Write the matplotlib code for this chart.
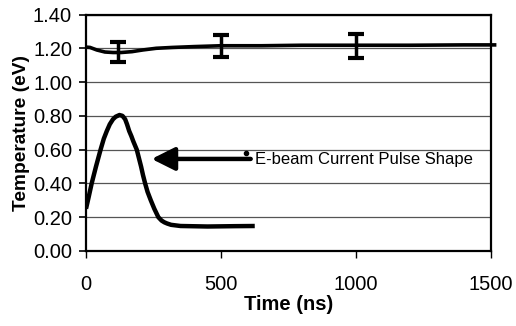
import matplotlib
matplotlib.use("Agg")
import matplotlib.pyplot as plt
import numpy as np

# Data
temp_t = [0, 15, 40, 70, 100, 130, 170, 210, 260, 320, 400, 500, 650, 800, 1000, 1200, 1400, 1520]
temp_v = [1.207, 1.205, 1.19, 1.178, 1.175, 1.175, 1.18, 1.19, 1.20, 1.205, 1.21, 1.215, 1.215, 1.218, 1.218, 1.218, 1.22, 1.22]

err_t = [120, 500, 1000]
err_v = [1.18, 1.215, 1.213]
err_e = [0.06, 0.065, 0.07]

pulse_t = [0, 10, 21, 37, 54, 66, 77, 88, 100, 110, 124, 135, 145, 152, 160, 168, 175, 188,
           196, 204, 211, 219, 228, 240, 253, 268, 280, 290, 300, 315, 350, 450, 550, 625]
pulse_v = [0.25, 0.32, 0.40, 0.50, 0.60, 0.665, 0.71, 0.75, 0.78, 0.795, 0.805, 0.80, 0.78, 0.75, 0.71, 0.68, 0.65, 0.60,
           0.55, 0.50, 0.45, 0.40, 0.35, 0.30, 0.25, 0.20, 0.18, 0.17, 0.163, 0.155, 0.148, 0.145, 0.147, 0.148]

x_ticks = [0, 500, 1000, 1500]
y_ticks = [0.0, 0.2, 0.4, 0.6, 0.8, 1.0, 1.2, 1.4]
annot_text = "E-beam Current Pulse Shape"

plt.rcParams['font.family'] = ['Liberation Sans', 'DejaVu Sans']

fig = plt.figure(figsize=(5.16, 3.26), dpi=100)
ax = fig.add_axes([86/516, 1-251/326, (491-86)/516, (251-14.5)/326])

ax.set_xlim(0, 1500)
ax.set_ylim(0, 1.4)
ax.set_yticks(y_ticks)
ax.set_yticklabels([f"{v:.2f}" for v in y_ticks])
ax.set_xticks(x_ticks)
ax.set_xticklabels([str(v) for v in x_ticks])
ax.yaxis.grid(True, color='#555555', linewidth=0.9)
ax.set_axisbelow(True)

for s in ax.spines.values():
    s.set_linewidth(1.6)
    s.set_color('black')

ax.tick_params(axis='y', direction='out', length=5, width=1.2, labelsize=14.5, pad=5)
ax.tick_params(axis='x', direction='out', length=5, width=1.0, labelsize=14.5, pad=12)

ax.plot(temp_t, temp_v, color='black', linewidth=2.6, clip_on=False,
        solid_capstyle='butt', solid_joinstyle='round')
ax.errorbar(err_t, err_v, yerr=err_e, fmt='none', ecolor='black', elinewidth=2.5, capsize=6, capthick=3)
ax.plot(pulse_t, pulse_v, color='black', linewidth=3.2, solid_capstyle='butt', solid_joinstyle='round')

ax.annotate("", xy=(243, 0.545), xytext=(610, 0.545),
            arrowprops=dict(arrowstyle='-|>,head_length=1.4,head_width=0.7', color='black', lw=3.2,
                            shrinkA=0, shrinkB=0))
ax.plot([592], [0.582], marker='o', color='black', markersize=3)
ax.text(626, 0.54, annot_text, fontsize=12, va='center', ha='left')

ax.set_ylabel("Temperature (eV)", fontsize=13.8, fontweight='bold', labelpad=2)
ax.set_xlabel("Time (ns)", fontsize=14.5, fontweight='bold', labelpad=1)

fig.savefig("out.png", dpi=100)
